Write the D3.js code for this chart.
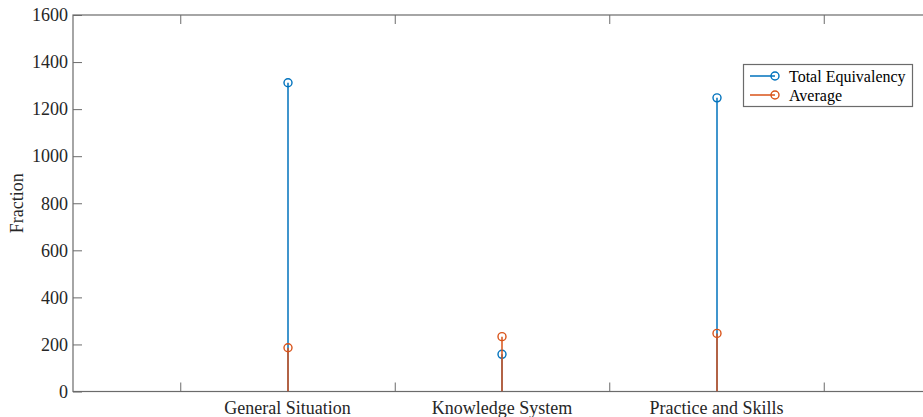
<!DOCTYPE html>
<html>
<head>
<meta charset="utf-8">
<script src="https://cdn.jsdelivr.net/npm/d3@7"></script>
<style>
  body { margin: 0; background: #fff; }
  svg { display: block; font-family: "Liberation Serif", "Times New Roman", serif; }
</style>
</head>
<body>
<div id="chart"></div>
<script>
// data
var categories = ["General Situation", "Knowledge System", "Practice and Skills"];
var totalEquivalency = [1312, 158, 1248];
var average = [186, 233, 247];
var seriesNames = ["Total Equivalency", "Average"];
var yTicks = [0, 200, 400, 600, 800, 1000, 1200, 1400, 1600];

var width = 923, height = 417;
// plot box edges (note: "top" is reserved on window, so plotTop)
var plotLeft = 73, plotTop = 15, plotBottom = 391.5;
var axisColor = "#6b6b6b";
var colors = ["#0072BD", "#D95319"];

var svg = d3.select("#chart").append("svg")
    .attr("width", width)
    .attr("height", height);

// x: categories sit at 1,2,3 ; plot box runs 0..4 (right side is off-screen)
var x = d3.scaleLinear().domain([0, 4]).range([plotLeft, plotLeft + 4 * 214.5]);
var y = d3.scaleLinear().domain([0, 1600]).range([plotBottom, plotTop]);
// stems sit on a pixel edge -> soft 2px line like the matlab export
var xs = function(v){ return Math.round(x(v)); };

// plot box
svg.append("rect")
   .attr("x", plotLeft).attr("y", plotTop)
   .attr("width", x(4) - plotLeft).attr("height", plotBottom - plotTop)
   .attr("fill", "none").attr("stroke", axisColor).attr("stroke-width", 1.2);

// y axis ticks (inward) and labels
var yAxis = d3.axisRight(y).tickValues(yTicks).tickSize(9).tickFormat("");
svg.append("g").attr("transform", "translate(" + plotLeft + ",0)").call(yAxis)
   .call(function(g){ g.select(".domain").remove(); g.selectAll("line").attr("stroke", axisColor); });

svg.selectAll("ylab").data(yTicks).enter().append("text")
   .attr("x", plotLeft - 5)
   .attr("y", function(d){ return y(d); })
   .attr("dy", "0.35em")
   .attr("text-anchor", "end")
   .style("font-size", "18px")
   .attr("fill", "#262626")
   .text(function(d){ return d; });

// x ticks between categories, inward on bottom and top
var xTickVals = [0.5, 1.5, 2.5, 3.5];
var xBot = d3.axisTop(x).tickValues(xTickVals).tickSize(9).tickFormat("");
svg.append("g").attr("transform", "translate(0," + plotBottom + ")").call(xBot)
   .call(function(g){ g.select(".domain").remove(); g.selectAll("line").attr("stroke", axisColor); });
var xTop = d3.axisBottom(x).tickValues(xTickVals).tickSize(9).tickFormat("");
svg.append("g").attr("transform", "translate(0," + plotTop + ")").call(xTop)
   .call(function(g){ g.select(".domain").remove(); g.selectAll("line").attr("stroke", axisColor); });

// category labels
svg.selectAll("xlab").data(categories).enter().append("text")
   .attr("x", function(d, i){ return x(i + 1); })
   .attr("y", 414)
   .attr("text-anchor", "middle")
   .style("font-size", "18px")
   .attr("fill", "#262626")
   .text(function(d){ return d; });

// y label
svg.append("text")
   .attr("transform", "translate(23," + ((plotTop + plotBottom) / 2) + ") rotate(-90)")
   .attr("text-anchor", "middle")
   .style("font-size", "18px")
   .attr("fill", "#262626")
   .text("Fraction");

// stems: draw both series
[totalEquivalency, average].forEach(function(vals, s){
  var g = svg.append("g");
  g.selectAll("line").data(vals).enter().append("line")
   .attr("x1", function(d, i){ return xs(i + 1); })
   .attr("x2", function(d, i){ return xs(i + 1); })
   .attr("y1", y(0))
   .attr("y2", function(d){ return y(d); })
   .attr("stroke", colors[s]).attr("stroke-width", 1.5);
  g.selectAll("circle").data(vals).enter().append("circle")
   .attr("cx", function(d, i){ return xs(i + 1); })
   .attr("cy", function(d){ return y(d); })
   .attr("r", 4)
   .attr("fill", "none")
   .attr("stroke", colors[s]).attr("stroke-width", 1.4);
});

// legend
var legend = svg.append("g");
legend.append("rect")
   .attr("x", 743.5).attr("y", 64.5).attr("width", 169).attr("height", 42)
   .attr("fill", "#fff").attr("stroke", axisColor).attr("stroke-width", 1.2);
seriesNames.forEach(function(name, i){
  var ly = 76 + i * 19;
  legend.append("line").attr("x1", 750).attr("x2", 775).attr("y1", ly).attr("y2", ly)
        .attr("stroke", colors[i]).attr("stroke-width", 1.5);
  legend.append("circle").attr("cx", 775).attr("cy", ly).attr("r", 4)
        .attr("fill", "none").attr("stroke", colors[i]).attr("stroke-width", 1.4);
  legend.append("text").attr("x", 789).attr("y", ly).attr("dy", "0.35em")
        .style("font-size", "16px").attr("fill", "#000").text(name);
});
</script>
</body>
</html>
